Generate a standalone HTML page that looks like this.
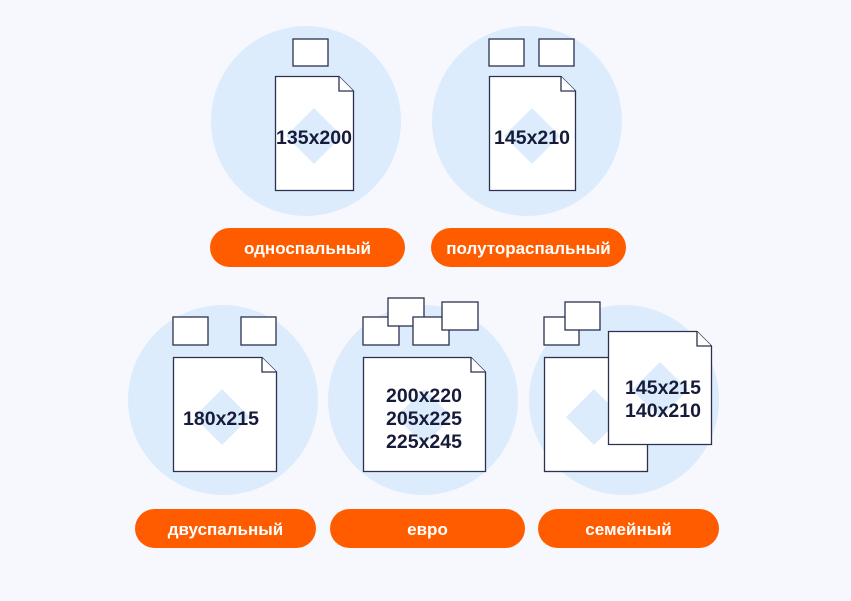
<!DOCTYPE html><html><head><meta charset="utf-8"><style>
html,body{margin:0;padding:0;background:#f7f8fe;}
svg{display:block}
text{font-family:"Liberation Sans",sans-serif;}
</style></head><body>
<svg width="851" height="601" viewBox="0 0 851 601" xmlns="http://www.w3.org/2000/svg">
<rect width="851" height="601" fill="#f7f8fe"/>
<defs>
<style>.p{fill:#fff;stroke:#2b3150;stroke-width:1.3}.c{fill:#dcecfc}.d{fill:#dcecfc}.t{fill:#161b3a;font-size:19.5px;font-weight:bold;text-anchor:middle}.b{fill:#ff5c00}.bt{fill:#fff;font-size:17px;font-weight:bold;text-anchor:middle}</style>
</defs>
<circle class="c" cx="306" cy="121" r="95"/>
<rect class="p" x="293" y="39" width="35" height="27"/>
<path class="p" d="M275.5,76.5 H339 L353.5,91 V190.5 H275.5 Z"/>
<path class="p" d="M339,76.5 V91 H353.5" fill="#e8eef8"/>
<path class="d" d="M314,108 L342,136 L314,164 L286,136 Z"/>
<text class="t" x="314" y="144">135x200</text>
<rect class="b" x="210" y="228" width="195" height="39" rx="19.5"/>
<text class="bt" x="307.5" y="254">односпальный</text>
<circle class="c" cx="527" cy="121" r="95"/>
<rect class="p" x="489" y="39" width="35" height="27"/>
<rect class="p" x="539" y="39" width="35" height="27"/>
<path class="p" d="M489.5,76.5 H561 L575.5,91 V190.5 H489.5 Z"/>
<path class="p" d="M561,76.5 V91 H575.5" fill="#e8eef8"/>
<path class="d" d="M532,108 L560,136 L532,164 L504,136 Z"/>
<text class="t" x="532" y="144">145x210</text>
<rect class="b" x="431" y="228" width="195" height="39" rx="19.5"/>
<text class="bt" x="528.5" y="254">полутораспальный</text>
<circle class="c" cx="223" cy="400" r="95"/>
<rect class="p" x="173" y="317" width="35" height="28"/>
<rect class="p" x="241" y="317" width="35" height="28"/>
<path class="p" d="M173.5,357.5 H262 L276.5,372 V471.5 H173.5 Z"/>
<path class="p" d="M262,357.5 V372 H276.5" fill="#e8eef8"/>
<path class="d" d="M222,389 L250,417 L222,445 L194,417 Z"/>
<text class="t" x="221" y="425">180x215</text>
<rect class="b" x="135" y="509" width="181" height="39" rx="19.5"/>
<text class="bt" x="225.5" y="535">двуспальный</text>
<circle class="c" cx="423" cy="400" r="95"/>
<rect class="p" x="363" y="317" width="36" height="28"/>
<rect class="p" x="388" y="298" width="36" height="28"/>
<rect class="p" x="413" y="317" width="36" height="28"/>
<rect class="p" x="442" y="302" width="36" height="28"/>
<path class="p" d="M363.5,357.5 H471 L485.5,372 V471.5 H363.5 Z"/>
<path class="p" d="M471,357.5 V372 H485.5" fill="#e8eef8"/>
<path class="d" d="M424,389 L452,417 L424,445 L396,417 Z"/>
<text class="t" x="424" y="402">200x220</text>
<text class="t" x="424" y="425">205x225</text>
<text class="t" x="424" y="448">225x245</text>
<rect class="b" x="330" y="509" width="195" height="39" rx="19.5"/>
<text class="bt" x="427.5" y="535">евро</text>
<circle class="c" cx="624" cy="400" r="95"/>
<rect class="p" x="544" y="317" width="35" height="28"/>
<rect class="p" x="565" y="302" width="35" height="28"/>
<rect class="p" x="544.5" y="357.5" width="103" height="114"/>
<path class="d" d="M594,389 L622,417 L594,445 L566,417 Z"/>
<path class="p" d="M608.5,331.5 H697 L711.5,346 V444.5 H608.5 Z"/>
<path class="p" d="M697,331.5 V346 H711.5" fill="#e8eef8"/>
<path class="d" d="M660,362 L688,390 L660,418 L632,390 Z"/>
<text class="t" x="663" y="394">145x215</text>
<text class="t" x="663" y="417">140x210</text>
<rect class="b" x="538" y="509" width="181" height="39" rx="19.5"/>
<text class="bt" x="628.5" y="535">семейный</text>
</svg>
</body></html>
